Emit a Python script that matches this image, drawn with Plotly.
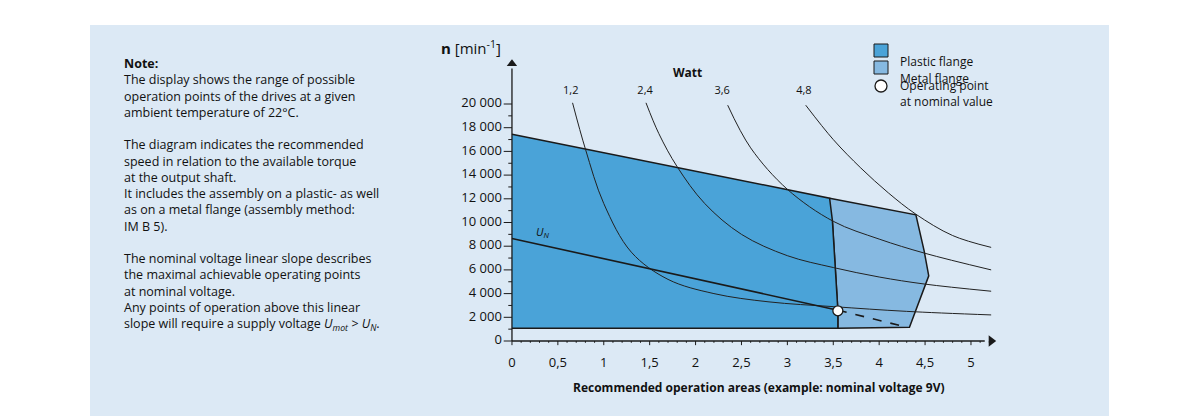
import plotly.graph_objects as go

# ---- data ----
plastic_M = [0, 3.46, 3.49, 3.55, 3.55, 0]
plastic_n = [17450, 12050, 10200, 2600, 1080, 1080]
metal_M = [3.46, 4.40, 4.49, 4.54, 4.33, 3.55, 3.55, 3.49]
metal_n = [12050, 10650, 7600, 5500, 1150, 1080, 2600, 10200]
w12_M = [0.66, 0.8, 1.0, 1.3, 1.7, 2.2, 2.8, 3.5, 4.3, 5.22]
w12_n = [20100, 16200, 11600, 7500, 5200, 4000, 3300, 2900, 2500, 2200]
w24_M = [1.46, 1.6, 1.8, 2.1, 2.5, 3.0, 3.5, 4.0, 4.5, 5.22]
w24_n = [20100, 17500, 14700, 11600, 9000, 7200, 6200, 5400, 4800, 4200]
w36_M = [2.35, 2.6, 3.0, 3.5, 4.0, 4.5, 5.22]
w36_n = [19900, 16300, 12800, 10100, 8600, 7400, 6000]
w48_M = [3.2, 3.5, 3.8, 4.1, 4.4, 4.8, 5.22]
w48_n = [19900, 17000, 14600, 12500, 10700, 8900, 7900]
un_M = [0, 3.55]
un_n = [8650, 2600]
un_dash_M = [3.55, 4.31]
un_dash_n = [2600, 1150]
op_M = [3.55]
op_n = [2550]
x_ticks = [0, 0.5, 1, 1.5, 2, 2.5, 3, 3.5, 4, 4.5, 5]
x_labels = ["0", "0,5", "1", "1,5", "2", "2,5", "3", "3,5", "4", "4,5", "5"]
y_ticks = [0, 2000, 4000, 6000, 8000, 10000, 12000, 14000, 16000, 18000, 20000]
y_labels = ["0", "2 000", "4 000", "6 000", "8 000", "10 000", "12 000", "14 000",
            "16 000", "18 000", "20 000"]
watt_labels = ["1,2", "2,4", "3,6", "4,8"]
watt_label_M = [0.64, 1.45, 2.29, 3.18]
watt_label_n = [21100, 21100, 21100, 21100]

PLASTIC = "#4aa3d8"
METAL = "#86b9e1"
BG = "#dce9f5"
FONT = "Open Sans"

W, H = 1183, 416
L, R, T, B = 414, 189, 27, 24
PW, PH = W - L - R, H - T - B
def px(x): return (x - L) / PW
def py(y): return 1 - (y - T) / PH

fig = go.Figure()
fig.add_trace(go.Scatter(x=metal_M, y=metal_n, fill="toself", fillcolor=METAL,
                         mode="lines", line=dict(color="#1a1a1a", width=1.5)))
fig.add_trace(go.Scatter(x=plastic_M, y=plastic_n, fill="toself", fillcolor=PLASTIC,
                         mode="lines", line=dict(color="#1a1a1a", width=1.5)))
for mm, nn in [(w12_M, w12_n), (w24_M, w24_n), (w36_M, w36_n), (w48_M, w48_n)]:
    fig.add_trace(go.Scatter(x=mm, y=nn, mode="lines", line=dict(color="#222", width=1, shape="spline")))
fig.add_trace(go.Scatter(x=un_M, y=un_n, mode="lines", line=dict(color="#1a1a1a", width=1.6)))
fig.add_trace(go.Scatter(x=un_dash_M, y=un_dash_n, mode="lines", line=dict(color="#1a1a1a", width=1.6, dash="dash")))

# axes
fig.add_trace(go.Scatter(x=[0, 0], y=[0, 23000], mode="lines", line=dict(color="#1a1a1a", width=1.3)))
fig.add_trace(go.Scatter(x=[0, 5.15], y=[0, 0], mode="lines", line=dict(color="#1a1a1a", width=1.3)))
tx, ty = [], []
for i in range(0, 53):
    v = i / 10
    tx += [v, v, None]
    ty += [0, -350 if i % 5 == 0 else -150, None]
fig.add_trace(go.Scatter(x=tx, y=ty, mode="lines", line=dict(color="#1a1a1a", width=1)))
tx, ty = [], []
for i in range(0, 21):
    v = i * 1000
    tx += [-0.09 if i % 2 == 0 else -0.04, 0, None]
    ty += [v, v, None]
fig.add_trace(go.Scatter(x=tx, y=ty, mode="lines", line=dict(color="#1a1a1a", width=1)))
fig.add_trace(go.Scatter(x=[0], y=[23400], mode="markers",
                         marker=dict(symbol="triangle-up", size=9, color="#1a1a1a")))
fig.add_trace(go.Scatter(x=[5.22], y=[0], mode="markers",
                         marker=dict(symbol="triangle-right", size=10, color="#1a1a1a")))
fig.add_trace(go.Scatter(x=[-0.11] * len(y_ticks), y=y_ticks, mode="text", text=y_labels,
                         textposition="middle left", textfont=dict(family=FONT, size=13, color="#111")))
fig.add_trace(go.Scatter(x=x_ticks, y=[-1900] * len(x_ticks), mode="text", text=x_labels,
                         textposition="middle center", textfont=dict(family=FONT, size=13, color="#111")))
fig.add_trace(go.Scatter(x=watt_label_M, y=watt_label_n, mode="text", text=watt_labels,
                         textposition="middle center", textfont=dict(family=FONT, size=11, color="#111")))
fig.add_trace(go.Scatter(x=op_M, y=op_n, mode="markers",
                         marker=dict(size=10, color="white", line=dict(color="#1a1a1a", width=1.3))))

fig.add_annotation(x=1.91, y=22700, text="<b>Watt</b>", showarrow=False,
                   font=dict(family=FONT, size=12, color="#111"))
fig.add_annotation(x=0.33, y=9200, text="<i>U<sub>N</sub></i>", showarrow=False,
                   font=dict(family=FONT, size=11, color="#111"))
fig.add_annotation(x=-0.45, y=24800, text="<b>n</b> [min<sup>-1</sup>]", showarrow=False,
                   font=dict(family=FONT, size=15, color="#111"))
fig.add_annotation(x=5.35, y=80, xanchor="left", text="<b>M</b> [mNm]", showarrow=False,
                   font=dict(family=FONT, size=15, color="#111"))
fig.add_annotation(x=2.69, y=-3950, text="<b>Recommended operation areas (example: nominal voltage 9V)</b>",
                   showarrow=False, font=dict(family=FONT, size=12, color="#111"))

note = ("<b>Note:</b><br>The display shows the range of possible<br>operation points of the drives at a given<br>"
        "ambient temperature of 22°C.<br><br>The diagram indicates the recommended<br>speed in relation to the available torque<br>"
        "at the output shaft.<br>It includes the assembly on a plastic- as well<br>as on a metal flange (assembly method:<br>"
        "IM B 5).<br><br>The nominal voltage linear slope describes<br>the maximal achievable operating points<br>"
        "at nominal voltage.<br>Any points of operation above this linear<br>slope will require a supply voltage <i>U<sub>mot</sub> &gt; U<sub>N</sub></i>.")
fig.add_annotation(xref="paper", yref="paper", x=px(114), y=py(45), xanchor="left", yanchor="top",
                   text=note, showarrow=False, align="left",
                   font=dict(family=FONT, size=12.5, color="#111"))

shapes = [dict(type="rect", xref="paper", yref="paper", x0=px(82), x1=px(1101), y0=py(408), y1=py(17),
               fillcolor=BG, line=dict(width=0), layer="below"),
          dict(type="rect", xref="paper", yref="paper", x0=px(866), x1=px(880), y0=py(49), y1=py(36),
               fillcolor=PLASTIC, line=dict(color="#1a1a1a", width=1)),
          dict(type="rect", xref="paper", yref="paper", x0=px(866), x1=px(880), y0=py(66), y1=py(53),
               fillcolor=METAL, line=dict(color="#1a1a1a", width=1)),
          dict(type="circle", xref="paper", yref="paper", x0=px(867), x1=px(879), y0=py(84), y1=py(72),
               fillcolor="white", line=dict(color="#1a1a1a", width=1.3))]
for t, y in [("Plastic flange", 43), ("Metal flange", 60)]:
    fig.add_annotation(xref="paper", yref="paper", x=px(890), y=py(y), xanchor="left", text=t,
                       showarrow=False, font=dict(family=FONT, size=12, color="#111"))
fig.add_annotation(xref="paper", yref="paper", x=px(890), y=py(85), xanchor="left", align="left",
                   text="Operating point<br>at nominal value", showarrow=False,
                   font=dict(family=FONT, size=12, color="#111"), yanchor="middle")

fig.update_layout(width=W, height=H, margin=dict(l=L, r=R, t=T, b=B),
                  paper_bgcolor="white", plot_bgcolor="rgba(0,0,0,0)", showlegend=False,
                  shapes=shapes,
                  xaxis=dict(visible=False, range=[-0.980, 5.338]),
                  yaxis=dict(visible=False, range=[-4979, 25823]))
fig.update_traces(cliponaxis=False, hoverinfo="skip")
fig.write_html("out.html")
